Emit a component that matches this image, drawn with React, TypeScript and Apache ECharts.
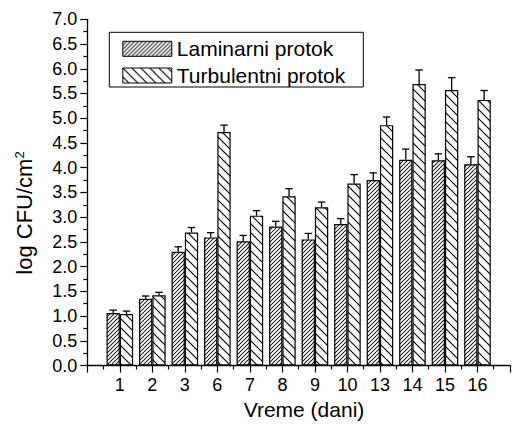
import React, { useEffect, useRef } from 'react';
import * as echarts from 'echarts';

const days = ['1', '2', '3', '6', '7', '8', '9', '10', '13', '14', '15', '16'];
const seriesNames = ['Laminarni protok', 'Turbulentni protok'];
const laminar = [1.06, 1.35, 2.3, 2.59, 2.51, 2.81, 2.55, 2.86, 3.75, 4.16, 4.15, 4.07];
const laminarErr = [0.06, 0.055, 0.1, 0.095, 0.12, 0.105, 0.12, 0.11, 0.145, 0.215, 0.13, 0.15];
const turbulent = [1.04, 1.42, 2.69, 4.72, 3.03, 3.42, 3.2, 3.68, 4.86, 5.69, 5.57, 5.37];
const turbulentErr = [0.06, 0.06, 0.1, 0.14, 0.1, 0.155, 0.105, 0.18, 0.165, 0.285, 0.25, 0.19];
const yTicks = { min: 0, max: 7, step: 0.5 };

const FONT = '"Liberation Sans", Arial, Helvetica, sans-serif';
const BAR_W = 13.3;

function makeHatch(period: number, lw: number, dir: '/' | '\\') {
  const s = 4;
  const c = document.createElement('canvas');
  const p = period * s;
  c.width = p;
  c.height = p;
  const ctx = c.getContext('2d')!;
  ctx.fillStyle = '#fff';
  ctx.fillRect(0, 0, p, p);
  ctx.strokeStyle = '#000';
  ctx.lineWidth = lw * s;
  for (let k = -1; k <= 1; k++) {
    ctx.beginPath();
    if (dir === '/') {
      ctx.moveTo(-4, (k + 1) * p + 4);
      ctx.lineTo(p + 4, k * p - 4);
    } else {
      ctx.moveTo(-4, k * p - 4);
      ctx.lineTo(p + 4, (k + 1) * p + 4);
    }
    ctx.stroke();
  }
  return { image: c.toDataURL(), repeat: 'repeat', imageWidth: period, imageHeight: period } as any;
}

function errSeries(vals: number[], errs: number[], dx: number) {
  return {
    type: 'custom',
    silent: true,
    z: 5,
    data: vals.map((v, i) => [i + 1, v, v + errs[i]]),
    renderItem: (params: any, api: any) => {
      const x = api.value(0);
      const v = api.value(1);
      const t = api.value(2);
      const p0 = api.coord([x, v]);
      const p1 = api.coord([x, t]);
      const cx = p0[0] + dx;
      const st = { stroke: '#000', lineWidth: 1.3 };
      return {
        type: 'group',
        children: [
          { type: 'line', shape: { x1: cx, y1: p0[1], x2: cx, y2: p1[1] }, style: st },
          { type: 'line', shape: { x1: cx - 3.7, y1: p1[1], x2: cx + 3.7, y2: p1[1] }, style: st },
        ],
      };
    },
  };
}

export default function App() {
  const ref = useRef<HTMLDivElement>(null);
  useEffect(() => {
    if (!ref.current) return;
    const chart = echarts.init(ref.current, undefined, { renderer: 'svg' });
    const lamFill = makeHatch(4, 0.9, '/');
    const turFill = makeHatch(9, 1.1, '\\');
    chart.setOption({
      animation: false,
      backgroundColor: '#fff',
      grid: { left: 87.3, right: -5.1, top: 19.3, bottom: 62.5 },
      legend: {
        orient: 'vertical',
        left: 109.3,
        top: 32.3,
        padding: [6, 18, 1, 13],
        itemGap: 5.7,
        itemWidth: 49,
        itemHeight: 15,
        itemTextGap: 3,
        icon: 'rect',
        borderColor: '#000',
        borderWidth: 1,
        itemStyle: { borderColor: '#000', borderWidth: 1 },
        textStyle: { fontSize: 21, color: '#000', fontFamily: FONT },
        data: seriesNames,
      },
      xAxis: {
        type: 'value',
        min: 0,
        max: 13,
        interval: 1,
        axisLine: { show: true, onZero: false, lineStyle: { color: '#000', width: 1.3 } },
        axisTick: { show: true, length: 7, lineStyle: { color: '#000', width: 1.2 } },
        minorTick: { show: true, splitNumber: 2, length: 4, lineStyle: { color: '#000', width: 1.2 } },
        splitLine: { show: false },
        axisLabel: {
          margin: 10,
          fontSize: 18,
          color: '#000',
          fontFamily: FONT,
          formatter: (v: number) => (Number.isInteger(v) && v >= 1 && v <= days.length ? days[v - 1] : ''),
        },
      },
      yAxis: {
        type: 'value',
        min: yTicks.min,
        max: yTicks.max,
        interval: yTicks.step,
        axisLine: { show: true, lineStyle: { color: '#000', width: 1.3 } },
        axisTick: { show: true, length: 7, lineStyle: { color: '#000', width: 1.2 } },
        minorTick: { show: true, splitNumber: 2, length: 4, lineStyle: { color: '#000', width: 1.2 } },
        splitLine: { show: false },
        axisLabel: {
          margin: 10,
          fontSize: 18,
          color: '#000',
          fontFamily: FONT,
          formatter: (v: number) => v.toFixed(1),
        },
      },
      graphic: [
        {
          type: 'text',
          x: 24,
          y: 213,
          rotation: Math.PI / 2,
          style: {
            text: '{a|log CFU/cm}{s|2}',
            align: 'center',
            verticalAlign: 'middle',
            rich: {
              a: { fontSize: 22, fontFamily: FONT, fill: '#000' },
              s: { fontSize: 13, fontFamily: FONT, fill: '#000', verticalAlign: 'top' },
            },
          },
        },
        {
          type: 'text',
          x: 304,
          y: 409,
          style: {
            text: 'Vreme (dani)',
            fontSize: 21,
            fontFamily: FONT,
            fill: '#000',
            align: 'center',
            verticalAlign: 'middle',
          },
        },
      ],
      series: [
        {
          name: seriesNames[0],
          type: 'bar',
          barWidth: BAR_W,
          barGap: '0%',
          itemStyle: { color: lamFill, borderColor: '#000', borderWidth: 1.2 },
          data: laminar.map((v, i) => [i + 1, v]),
        },
        {
          name: seriesNames[1],
          type: 'bar',
          barWidth: BAR_W,
          barGap: '0%',
          itemStyle: { color: turFill, borderColor: '#000', borderWidth: 1.2 },
          data: turbulent.map((v, i) => [i + 1, v]),
        },
        errSeries(laminar, laminarErr, -BAR_W / 2),
        errSeries(turbulent, turbulentErr, BAR_W / 2),
      ],
    } as any);
    return () => chart.dispose();
  }, []);
  return (
    <div
      ref={ref}
      style={{ position: 'fixed', left: 0, top: 0, width: 513, height: 428, background: '#fff' }}
    />
  );
}
